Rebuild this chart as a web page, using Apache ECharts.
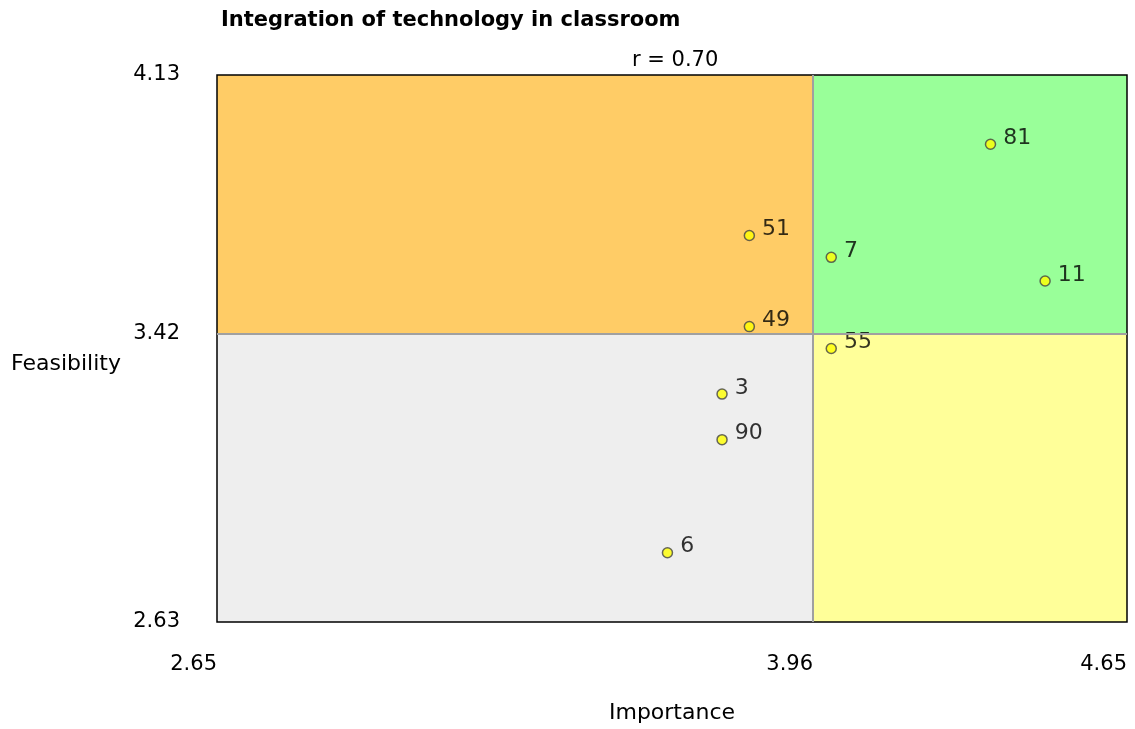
<!DOCTYPE html>
<html>
<head>
<meta charset="utf-8">
<script src="https://cdn.jsdelivr.net/npm/echarts@6/dist/echarts.min.js"></script>
<style>
  html, body { margin: 0; padding: 0; background: #fff; }
  #chart { width: 1135px; height: 729px; }
</style>
</head>
<body>
<div id="chart"></div>
<script>
// item ids and their (importance, feasibility) scores
var ids = ['81', '51', '7', '11', '49', '55', '3', '90', '6'];
var importance = [4.35, 3.82, 4.00, 4.47, 3.82, 4.00, 3.76, 3.76, 3.64];
var feasibility = [3.94, 3.69, 3.63, 3.565, 3.44, 3.38, 3.255, 3.13, 2.82];

var xMin = 2.65, xMid = 3.96, xMax = 4.65;
var yMin = 2.63, yMid = 3.42, yMax = 4.13;

var font = '"DejaVu Sans", sans-serif';

var points = [];
for (var i = 0; i < ids.length; i++) {
  points.push({ value: [importance[i], feasibility[i]], name: ids[i] });
}

var chart = echarts.init(document.getElementById('chart'));
var option = {
  backgroundColor: '#ffffff',
  animation: false,
  textStyle: { fontFamily: font },
  title: [{
    text: 'Integration of technology in classroom',
    left: 216,
    top: 5,
    textStyle: { fontSize: 21, fontWeight: 'bold', color: '#000', fontFamily: font }
  }, {
    text: 'r = 0.70',
    left: 627,
    top: 45,
    textStyle: { fontSize: 21, fontWeight: 'normal', color: '#000', fontFamily: font }
  }],
  graphic: [{
    type: 'text',
    left: 11,
    top: 353,
    style: { text: 'Feasibility', fontSize: 22, fill: '#000', fontFamily: font }
  }],
  grid: {
    left: 217,
    right: 8,
    top: 75,
    bottom: 107,
    containLabel: false,
    outerBoundsMode: 'none',
    show: true,
    borderColor: '#000',
    borderWidth: 1.5,
    backgroundColor: 'transparent'
  },
  xAxis: {
    type: 'value',
    min: xMin,
    max: xMax,
    name: 'Importance',
    nameLocation: 'middle',
    nameGap: 80,
    nameTextStyle: { fontSize: 22, color: '#000', fontFamily: font },
    axisLine: { show: false },
    axisTick: { show: false },
    splitLine: { show: false },
    axisLabel: {
      customValues: [xMin, xMid, xMax],
      formatter: function (v) { return v.toFixed(2); },
      align: 'right',
      margin: 32,
      fontSize: 21,
      color: '#000',
      fontFamily: font
    }
  },
  yAxis: {
    type: 'value',
    min: yMin,
    max: yMax,
    axisLine: { show: false },
    axisTick: { show: false },
    splitLine: { show: false },
    axisLabel: {
      customValues: [yMin, yMid, yMax],
      formatter: function (v) { return v.toFixed(2); },
      margin: 37,
      fontSize: 21,
      color: '#000',
      fontFamily: font
    }
  },
  series: [{
    type: 'scatter',
    data: points,
    symbol: 'circle',
    symbolSize: 10,
    itemStyle: { color: '#FFFF00', borderColor: '#444', borderWidth: 1.5 },
    label: {
      show: true,
      position: 'right',
      distance: 7,
      offset: [0, -6],
      formatter: '{b}',
      fontSize: 22,
      color: '#000',
      fontFamily: font
    },
    markArea: {
      silent: true,
      z: -1,
      data: [
        [{ coord: [xMin, yMid], itemStyle: { color: '#FFCC66' } }, { coord: [xMid, yMax] }],
        [{ coord: [xMid, yMid], itemStyle: { color: '#99FF99' } }, { coord: [xMax, yMax] }],
        [{ coord: [xMin, yMin], itemStyle: { color: '#EEEEEE' } }, { coord: [xMid, yMid] }],
        [{ coord: [xMid, yMin], itemStyle: { color: '#FFFF99' } }, { coord: [xMax, yMid] }]
      ]
    },
    markLine: {
      silent: true,
      symbol: 'none',
      label: { show: false },
      lineStyle: { color: '#A0A0A0', type: 'solid', width: 2 },
      data: [{ xAxis: xMid }, { yAxis: yMid }]
    }
  }]
};
chart.setOption(option);
</script>
</body>
</html>
